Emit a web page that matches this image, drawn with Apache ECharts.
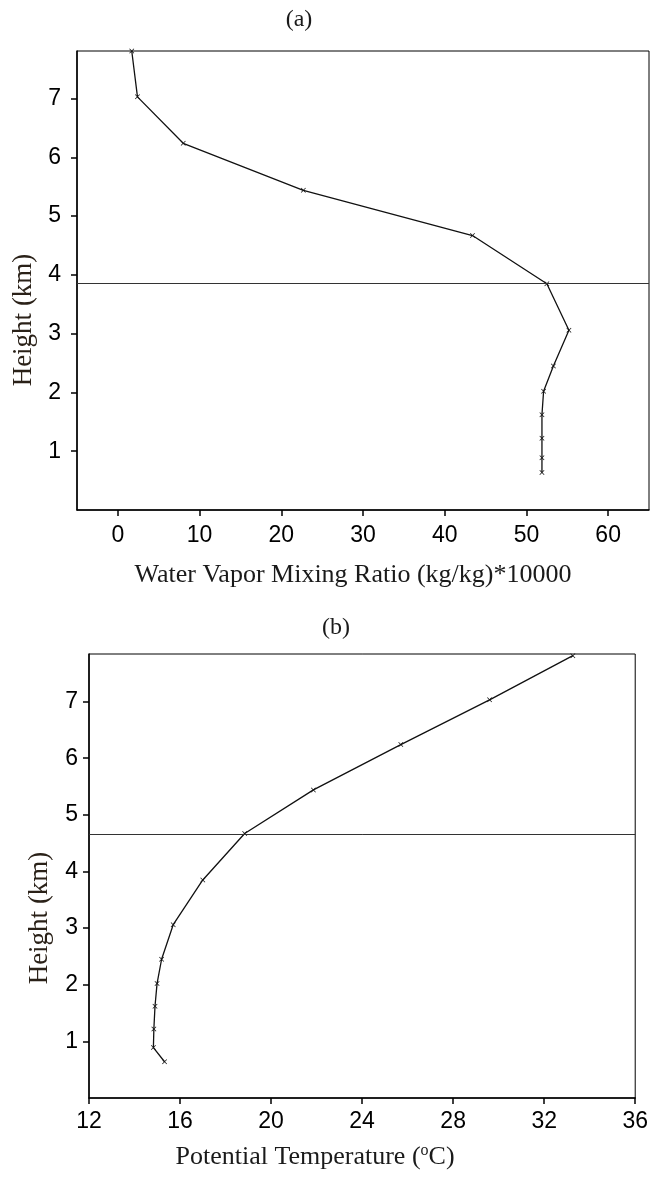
<!DOCTYPE html>
<html>
<head>
<meta charset="utf-8">
<script src="https://cdn.jsdelivr.net/npm/echarts@6/dist/echarts.min.js"></script>
<style>
  html, body { margin: 0; padding: 0; background: #fff; }
  #main { width: 651px; height: 1178px; }
</style>
</head>
<body>
<div id="main"></div>
<script>
    // heights of the sounding levels (km)
    var heights = [0.64, 0.89, 1.22, 1.62, 2.02, 2.45, 3.06, 3.85, 4.67, 5.44, 6.24, 7.03, 7.81];
    // (a) water vapor mixing ratio (kg/kg)*10000
    var mixing = [51.9, 51.9, 51.9, 51.9, 52.1, 53.3, 55.2, 52.5, 43.4, 22.7, 8.0, 2.4, 1.7];
    // (b) potential temperature (oC)
    var theta = [15.32, 14.83, 14.85, 14.9, 14.99, 15.19, 15.7, 17.0, 18.84, 21.86, 25.7, 29.6, 33.26];
    // horizontal reference lines
    var lineA = 3.85;
    var lineB = 4.66;
    // tick labels
    var yTicks = [1, 2, 3, 4, 5, 6, 7];
    var xTicksA = [0, 10, 20, 30, 40, 50, 60];
    var xTicksB = [12, 16, 20, 24, 28, 32, 36];

    function pairs(xs, ys) {
        var out = [];
        for (var i = 0; i < xs.length; i++) {
            out.push([xs[i], ys[i]]);
        }
        return out;
    }

    var serif = '"Liberation Serif", "DejaVu Serif", serif';
    var sans = '"Liberation Sans", Arial, sans-serif';
    var crossSymbol = 'path://M0,1L1,0L5,4L9,0L10,1L6,5L10,9L9,10L5,6L1,10L0,9L4,5Z';

    function xAxisOpt(grid, min, max, ticks, margin) {
        return {
            type: 'value',
            gridIndex: grid,
            min: min,
            max: max,
            splitLine: { show: false },
            axisLine: { show: true, onZero: false, lineStyle: { color: '#000', width: 1.5 } },
            axisTick: { show: true, length: 6, customValues: ticks, lineStyle: { color: '#000', width: 1.5 } },
            axisLabel: { customValues: ticks, margin: margin, color: '#000', fontSize: 23, fontFamily: sans }
        };
    }

    function yAxisOpt(grid, max, margin) {
        return {
            type: 'value',
            gridIndex: grid,
            min: 0,
            max: max,
            splitLine: { show: false },
            axisLine: { show: true, onZero: false, lineStyle: { color: '#000', width: 1.5 } },
            axisTick: { show: true, length: 6, customValues: yTicks, lineStyle: { color: '#000', width: 1.5 } },
            axisLabel: { customValues: yTicks, margin: margin, color: '#000', fontSize: 23, fontFamily: sans }
        };
    }

    function profile(xi, data, ref) {
        return {
            type: 'line',
            xAxisIndex: xi,
            yAxisIndex: xi,
            data: data,
            symbol: crossSymbol,
            symbolSize: 5,
            showSymbol: true,
            animation: false,
            lineStyle: { color: '#111', width: 1.3 },
            itemStyle: { color: '#111' },
            markLine: {
                silent: true,
                symbol: 'none',
                label: { show: false },
                lineStyle: { color: '#333', width: 1, type: 'solid' },
                data: [{ yAxis: ref }]
            }
        };
    }

    var myChart = echarts.init(document.getElementById('main'));

    myChart.setOption({
        backgroundColor: '#fff',
        animation: false,
        grid: [{
            left: 77, top: 51, width: 572, height: 459,
            show: true, borderColor: '#000', borderWidth: 1
        }, {
            left: 89, top: 654, width: 548, height: 444,
            show: true, borderColor: '#000', borderWidth: 1
        }],
        xAxis: [
            xAxisOpt(0, -5, 65, xTicksA, 14),
            xAxisOpt(1, 12, 36, xTicksB, 12)
        ],
        yAxis: [
            yAxisOpt(0, 7.81, 16),
            yAxisOpt(1, 7.84, 11)
        ],
        series: [
            profile(0, pairs(mixing, heights), lineA),
            profile(1, pairs(theta, heights), lineB)
        ],
        graphic: [{
            type: 'text', x: 299, y: 20,
            style: { text: '(a)', fill: '#1a1a1a', font: '24px ' + serif, align: 'center', verticalAlign: 'middle' }
        }, {
            type: 'text', x: 336, y: 628,
            style: { text: '(b)', fill: '#1a1a1a', font: '24px ' + serif, align: 'center', verticalAlign: 'middle' }
        }, {
            type: 'text', x: 353, y: 575,
            style: { text: 'Water Vapor Mixing Ratio (kg/kg)*10000', fill: '#1a1a1a', font: '26px ' + serif, align: 'center', verticalAlign: 'middle' }
        }, {
            type: 'text', x: 24, y: 320, rotation: Math.PI / 2,
            style: { text: 'Height (km)', fill: '#2a2118', font: '27px ' + serif, align: 'center', verticalAlign: 'middle' }
        }, {
            type: 'text', x: 40, y: 918, rotation: Math.PI / 2,
            style: { text: 'Height (km)', fill: '#2a2118', font: '27px ' + serif, align: 'center', verticalAlign: 'middle' }
        }, {
            type: 'text', x: 315, y: 1157,
            style: {
                text: 'Potential Temperature ({sup|o}C)',
                fill: '#1a1a1a', font: '26px ' + serif, align: 'center', verticalAlign: 'middle',
                rich: {
                    sup: { fontSize: 16, fontFamily: serif, fill: '#1a1a1a', padding: [0, 0, 13, 0] }
                }
            }
        }]
    });
</script>
</body>
</html>
